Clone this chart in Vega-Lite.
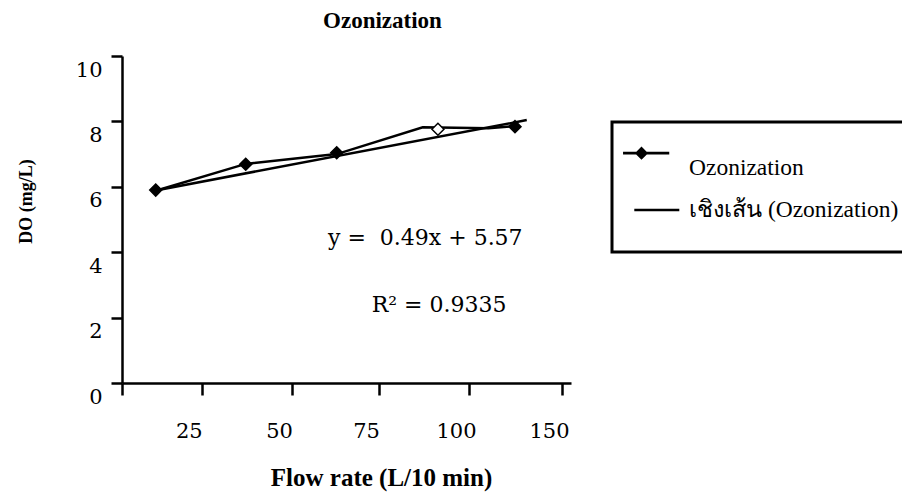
{
  "$schema": "https://vega.github.io/schema/vega-lite/v6.json",
  "width": 449,
  "height": 327,
  "autosize": {"type": "none"},
  "padding": {"left": 122, "top": 56, "right": 331, "bottom": 115},
  "background": "white",
  "config": {
    "view": {"stroke": null},
    "font": "Liberation Serif",
    "legend": {"strokeWidth": 3}
  },
  "title": {
    "text": "Ozonization",
    "font": "Liberation Serif",
    "fontSize": 23,
    "fontWeight": "bold",
    "color": "black",
    "anchor": "middle",
    "frame": "group",
    "baseline": "alphabetic",
    "dx": 36,
    "offset": 4
  },
  "datasets": {
    "points": [
      {"flow": "25", "pos": 0.642, "DO": 5.90},
      {"flow": "50", "pos": 1.643, "DO": 6.69},
      {"flow": "75", "pos": 2.655, "DO": 7.04},
      {"flow": "100", "pos": 3.781, "DO": 7.76},
      {"flow": "150", "pos": 4.638, "DO": 7.84}
    ],
    "line": [
      {"step": 1, "pos": 0.642, "DO": 5.88},
      {"step": 2, "pos": 1.643, "DO": 6.70},
      {"step": 3, "pos": 2.655, "DO": 7.00},
      {"step": 4, "pos": 3.612, "DO": 7.82},
      {"step": 5, "pos": 4.341, "DO": 7.79},
      {"step": 6, "pos": 4.638, "DO": 7.86}
    ],
    "trend": [
      {"pos": 0.642, "DO": 5.89},
      {"pos": 4.769, "DO": 8.04}
    ],
    "notes": [
      {"label": "y =\u00a0\u00a00.49x + 5.57", "pos": 2.558, "DO": 4.22},
      {"label": "R² = 0.9335", "pos": 3.044, "DO": 2.18}
    ],
    "series": [
      {"series": "Ozonization"},
      {"series": "เชิงเส้น (Ozonization)"}
    ]
  },
  "layer": [
    {
      "data": {"name": "line"},
      "mark": {"type": "line", "color": "black", "strokeWidth": 2.5},
      "encoding": {
        "x": {
          "field": "pos",
          "type": "quantitative",
          "scale": {"domain": [0.267, 5.261], "nice": false, "zero": false},
          "axis": {
            "values": [0.267, 1.154, 2.158, 3.126, 4.127, 5.161],
            "labelExpr": "datum.value < 0.5 ? '' : datum.value < 1.5 ? '25' : datum.value < 2.5 ? '50' : datum.value < 3.5 ? '75' : datum.value < 4.5 ? '100' : '150'",
            "grid": false,
            "domainColor": "black",
            "domainWidth": 2.5,
            "tickColor": "black",
            "tickWidth": 2.5,
            "tickSize": 12,
            "labelFont": "DejaVu Serif",
            "labelFontSize": 21,
            "labelColor": "black",
            "labelPadding": 25,
            "labelOffset": -13,
            "labelFlush": false,
            "labelOverlap": false,
            "title": "Flow rate (L/10 min)",
            "titleFont": "Liberation Serif",
            "titleFontSize": 25,
            "titleFontWeight": "bold",
            "titleColor": "black",
            "titleAlign": "center",
            "titleBaseline": "alphabetic",
            "titleX": 259,
            "titleY": 102
          }
        },
        "y": {
          "field": "DO",
          "type": "quantitative",
          "scale": {"domain": [0, 10], "nice": false},
          "axis": {
            "values": [0, 2, 4, 6, 8, 10],
            "grid": false,
            "domainColor": "black",
            "domainWidth": 2.5,
            "tickColor": "black",
            "tickWidth": 2.5,
            "tickSize": 11,
            "labelFont": "DejaVu Serif",
            "labelFontSize": 21,
            "labelColor": "black",
            "labelPadding": 9,
            "labelOffset": 14,
            "labelFlush": false,
            "labelOverlap": false,
            "title": "DO (mg/L)",
            "titleFont": "Liberation Serif",
            "titleFontSize": 18,
            "titleFontWeight": "bold",
            "titleColor": "black",
            "titleAngle": -90,
            "titleAlign": "center",
            "titleBaseline": "alphabetic",
            "titleX": -91,
            "titleY": 145
          }
        },
        "order": {"field": "step", "type": "quantitative"}
      }
    },
    {
      "data": {"name": "trend"},
      "mark": {"type": "line", "color": "black", "strokeWidth": 2.5},
      "encoding": {
        "x": {"field": "pos", "type": "quantitative"},
        "y": {"field": "DO", "type": "quantitative"}
      }
    },
    {
      "data": {"name": "points"},
      "mark": {"type": "point", "shape": "diamond", "size": 144, "stroke": "black", "strokeWidth": 1.5, "opacity": 1},
      "encoding": {
        "x": {"field": "pos", "type": "quantitative"},
        "y": {"field": "DO", "type": "quantitative"},
        "fill": {
          "condition": {"test": "datum.flow === '100'", "value": "white"},
          "value": "black"
        }
      }
    },
    {
      "data": {"name": "notes"},
      "mark": {"type": "text", "align": "left", "baseline": "alphabetic", "font": "DejaVu Serif", "fontSize": 22, "color": "black"},
      "encoding": {
        "x": {"field": "pos", "type": "quantitative"},
        "y": {"field": "DO", "type": "quantitative"},
        "text": {"field": "label"}
      }
    },
    {
      "data": {"name": "series"},
      "transform": [{"filter": "datum.series === 'none'"}],
      "mark": {"type": "point", "filled": true, "fill": "black", "opacity": 1, "size": 900},
      "encoding": {
        "shape": {
          "field": "series",
          "type": "nominal",
          "scale": {
            "domain": ["Ozonization", "เชิงเส้น (Ozonization)"],
            "range": [
              "M-2.33,-1.08L0.75,-1.08L0.75,-0.9L-2.33,-0.9Z M-1.1,-1.43L-0.66,-0.99L-1.1,-0.55L-1.54,-0.99Z",
              "M-1.58,-0.09L1.42,-0.09L1.42,0.09L-1.58,0.09Z"
            ]
          },
          "legend": {
            "orient": "none",
            "legendX": 490,
            "legendY": 66,
            "title": null,
            "padding": 30,
            "strokeColor": "black",
            "fillColor": "white",
            "symbolSize": 900,
            "symbolFillColor": "black",
            "symbolOpacity": 1,
            "labelFont": "Liberation Serif",
            "labelFontSize": 23.5,
            "labelColor": "black",
            "labelOffset": 15,
            "labelLimit": 500,
            "rowPadding": 14
          }
        }
      }
    }
  ]
}
